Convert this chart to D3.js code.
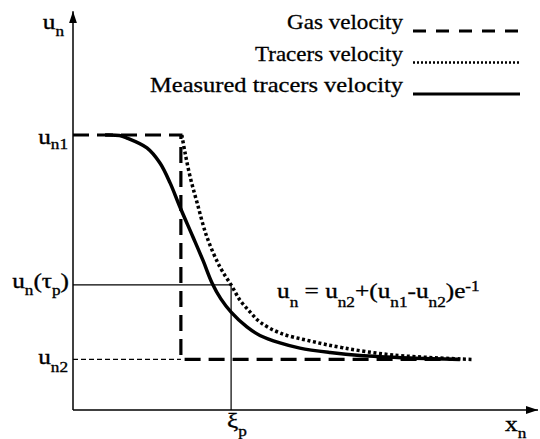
<!DOCTYPE html>
<html>
<head>
<meta charset="utf-8">
<style>
html, body {
  margin: 0;
  background: #fff;
}
svg {
  display: block;
}
</style>
<script src="https://d3js.org/d3.v7.min.js"></script>
</head>
<body>
<svg width="540" height="439"></svg>
<script>
// levels and positions, in chart units (x: 0..10, y: 0..10 with u_n1 = 10)
var un1 = 10, un2 = 1.84, uTau = 4.55;
var xJump = 2.32, xiP = 3.40, xGasEnd = 8.26;
var xMax = 10, yMax = 14.5;

// measured tracers velocity (solid)
var measX = [0.69, 1.00, 1.16, 1.59, 1.87, 2.09, 2.30, 2.58, 2.80, 2.99, 3.18, 3.40, 3.74, 4.02, 4.45, 4.88, 5.53, 6.17, 7.25, 8.32];
var measY = [10.0, 9.98, 9.89, 9.53, 8.98, 8.25, 7.38, 6.29, 5.42, 4.62, 4.04, 3.56, 3.02, 2.71, 2.44, 2.25, 2.09, 1.98, 1.89, 1.84];

// tracers velocity (dotted)
var tracX = [2.34, 2.41, 2.52, 2.67, 2.88, 3.16, 3.40, 3.59, 3.81, 4.02, 4.45, 5.10, 5.81, 6.88, 8.58];
var tracY = [10.0, 9.35, 8.47, 7.53, 6.29, 5.20, 4.55, 4.00, 3.56, 3.20, 2.80, 2.51, 2.26, 2.00, 1.84];

var legendLabels = ["Gas velocity", "Tracers velocity", "Measured tracers velocity"];

var svg = d3.select("svg");
var serif = "Liberation Serif";
var x = d3.scaleLinear().domain([0, xMax]).range([73, 538]);
var y = d3.scaleLinear().domain([0, un1]).range([410, 135]);

var stretch = 1.15; // the original type is a little wider than Times

// text with sub/superscripts: parts = [[str, "", "sub", "sup"], ...]
function label(parts, px, py, anchor, size, shifts) {
  var t = svg.append("text")
      .attr("font-family", serif)
      .attr("text-anchor", anchor || "start")
      .attr("font-size", size)
      .attr("stroke", "#000").attr("stroke-width", 0.35)
      .attr("transform", "translate(" + px + "," + py + ") scale(" + stretch + ",1)");
  var cur = 0;
  parts.forEach(function(p) {
    var target = p[1] === "sub" ? shifts[0] : p[1] === "sup" ? shifts[1] : 0;
    t.append("tspan")
      .attr("dy", target - cur)
      .attr("font-size", p[1] ? size * 0.68 : size)
      .text(p[0]);
    cur = target;
  });
  return t;
}

svg.append("defs").append("marker")
    .attr("id", "arrow")
    .attr("viewBox", "0 0 12 8")
    .attr("refX", 12).attr("refY", 4)
    .attr("markerWidth", 12).attr("markerHeight", 8)
    .attr("markerUnits", "userSpaceOnUse")
    .attr("orient", "auto")
  .append("path")
    .attr("d", "M0,0L12,4L0,8Z")
    .attr("fill", "#000");

// axes
svg.append("line")
    .attr("x1", x(0)).attr("y1", y(0))
    .attr("x2", x(0)).attr("y2", y(yMax))
    .attr("stroke", "#000").attr("stroke-width", 1.5)
    .attr("marker-end", "url(#arrow)");
svg.append("line")
    .attr("x1", x(0)).attr("y1", y(0))
    .attr("x2", x(xMax)).attr("y2", y(0))
    .attr("stroke", "#000").attr("stroke-width", 1.5)
    .attr("marker-end", "url(#arrow)");

// guide lines
svg.append("line")
    .attr("x1", x(0)).attr("y1", y(uTau))
    .attr("x2", x(xiP)).attr("y2", y(uTau))
    .attr("stroke", "#000").attr("stroke-width", 1.2);
svg.append("line")
    .attr("x1", x(xiP)).attr("y1", y(uTau))
    .attr("x2", x(xiP)).attr("y2", y(0))
    .attr("stroke", "#000").attr("stroke-width", 1.2);
svg.append("line")
    .attr("x1", x(0)).attr("y1", y(un2))
    .attr("x2", x(xJump)).attr("y2", y(un2))
    .attr("stroke", "#000").attr("stroke-width", 1.1)
    .attr("stroke-dasharray", "5,3");

// gas velocity: step
var gas = [[0, un1], [xJump, un1], [xJump, un2], [xGasEnd, un2]];
svg.append("path")
    .attr("d", d3.line().x(d => x(d[0])).y(d => y(d[1]))(gas))
    .attr("fill", "none").attr("stroke", "#000")
    .attr("stroke-width", 3.2).attr("stroke-dasharray", "16,8");

var smooth = d3.line().x(d => x(d[0])).y(d => y(d[1])).curve(d3.curveCatmullRom.alpha(0.5));

svg.append("path")
    .attr("d", smooth(d3.zip(tracX, tracY)))
    .attr("fill", "none").attr("stroke", "#000")
    .attr("stroke-width", 3.5).attr("stroke-dasharray", "3,2.6");

svg.append("path")
    .attr("d", smooth(d3.zip(measX, measY)))
    .attr("fill", "none").attr("stroke", "#000")
    .attr("stroke-width", 3.5);

// legend
var dashes = ["13,10", "2,2", null];
var widths = [3.2, 2.6, 3.2];
legendLabels.forEach(function(s, i) {
  var by = 29 + i * 31.5;
  svg.append("text")
      .attr("font-family", serif)
      .attr("x", 403).attr("y", by)
      .attr("text-anchor", "end")
      .attr("font-size", 21)
      .attr("stroke", "#000").attr("stroke-width", 0.3)
      .attr("textLength", [116, 148, 253][i])
      .attr("lengthAdjust", "spacingAndGlyphs")
      .text(s);
  var l = svg.append("line")
      .attr("x1", 413).attr("x2", 520)
      .attr("y1", by + 2).attr("y2", by + 2)
      .attr("stroke", "#000").attr("stroke-width", widths[i]);
  if (dashes[i]) l.attr("stroke-dasharray", dashes[i]);
});

// axis labels
var sh = [7, -6];
label([["u", ""], ["n", "sub"]], x(0) - 9, 29, "end", 22, sh);
label([["u", ""], ["n1", "sub"]], x(0) - 5, y(un1) + 9, "end", 22, [5, -6]);
label([["u", ""], ["n", "sub"], ["(\u03c4", ""], ["p", "sub"], [")", ""]], x(0) - 4, y(uTau) + 3, "end", 22, sh);
label([["u", ""], ["n2", "sub"]], x(0) - 5, y(un2) + 4.5, "end", 22, [8, -6]);
label([["\u03be", ""], ["p", "sub"]], x(xiP) - 4, 428, "start", 22, [8, -6]);
label([["x", ""], ["n", "sub"]], 505, 431, "start", 22, [7, -6]);

// formula
label([["u", ""], ["n", "sub"], [" = u", ""], ["n2", "sub"], ["+(u", ""], ["n1", "sub"],
       ["-u", ""], ["n2", "sub"], [")e", ""], ["-1", "sup"]],
      277, 298, "start", 22, [9, -7]);
</script>
</body>
</html>
